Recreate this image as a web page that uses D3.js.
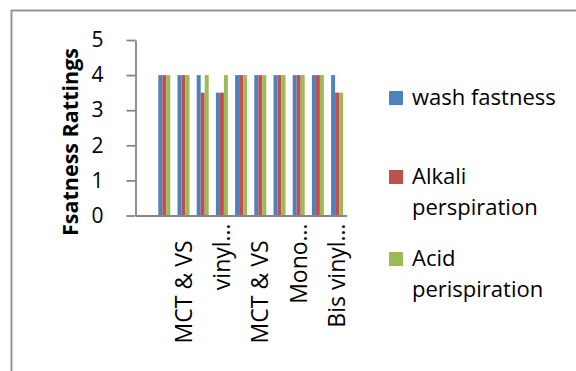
<!DOCTYPE html>
<html>
<head>
<meta charset="utf-8">
<script src="https://cdn.jsdelivr.net/npm/d3@7"></script>
<style>
  html, body { margin: 0; padding: 0; background: #fff; }
  svg { display: block; }
  text { font-family: "Open Sans", Lato, "Liberation Sans", sans-serif; fill: #000; }
</style>
</head>
<body>
<svg id="chart" width="576" height="371"></svg>
<script>
// Category slots along the x axis (only every second label is printed)
const categories = ["", "", "MCT & VS", "", "vinyl…", "", "MCT & VS", "", "Mono…", "", "Bis vinyl…"];

// Ratings per category for each test
const washFastness = [null, 4, 4, 4, 3.5, 4, 4, 4, 4, 4, 4];
const alkaliPerspiration = [null, 4, 4, 3.5, 3.5, 4, 4, 4, 4, 4, 3.5];
const acidPerspiration = [null, 4, 4, 4, 4, 4, 4, 4, 4, 4, 3.5];

const seriesNames = ["wash fastness", "Alkali perspiration", "Acid perispiration"];
const seriesLegendLines = [["wash fastness"], ["Alkali", "perspiration"], ["Acid", "perispiration"]];
const seriesColors = ["#4F81BD", "#C0504D", "#9BBB59"];
const yTicks = [0, 1, 2, 3, 4, 5];
const yTitle = "Fsatness Rattings";

const seriesValues = [washFastness, alkaliPerspiration, acidPerspiration];

const svg = d3.select("#chart");

// chart frame
svg.append("rect")
  .attr("x", 11.5).attr("y", 10.5)
  .attr("width", 600).attr("height", 400)
  .attr("fill", "#fff")
  .attr("stroke", "#8c8c8c")
  .attr("stroke-width", 1.8);

const plot = { left: 135.5, right: 346.7, top: 40, bottom: 215.5 };

const y = d3.scaleLinear().domain([0, 5]).range([plot.bottom, plot.top]);
const x0 = d3.scaleBand().domain(d3.range(categories.length)).range([plot.left, plot.right]).padding(0);
const groupWidth = x0.bandwidth() / 1.6;
const x1 = d3.scaleBand().domain(d3.range(seriesNames.length)).range([0, groupWidth]).padding(0);

// bars
const groups = svg.append("g")
  .selectAll("g")
  .data(categories.map((c, i) => i))
  .join("g")
  .attr("transform", i => `translate(${x0(i) + (x0.bandwidth() - groupWidth) / 2},0)`);

groups.selectAll("rect")
  .data(i => seriesValues.map((vals, s) => ({ s, v: vals[i] })).filter(d => d.v != null))
  .join("rect")
  .attr("x", d => x1(d.s))
  .attr("width", x1.bandwidth())
  .attr("y", d => y(d.v))
  .attr("height", d => y(0) - y(d.v))
  .attr("fill", d => seriesColors[d.s]);

// y axis
const yAxis = svg.append("g")
  .attr("transform", `translate(${plot.left},0)`)
  .call(d3.axisLeft(y).tickValues(yTicks).tickFormat(d3.format("d"))
    .tickSize(9).tickPadding(23).tickSizeOuter(0));
yAxis.select(".domain").attr("stroke", "#868686").attr("stroke-width", 1.8);
yAxis.selectAll(".tick line").attr("stroke", "#868686").attr("stroke-width", 1.8);
yAxis.selectAll(".tick text")
  .attr("font-size", 21)
  .attr("font-family", "\"Open Sans\", Lato, sans-serif")
  .attr("fill", "#000");

// x axis (line only, labels drawn below)
const xAxis = svg.append("g")
  .attr("transform", `translate(0,${plot.bottom})`)
  .call(d3.axisBottom(x0).tickSize(0).tickSizeOuter(0).tickFormat(""));
xAxis.select(".domain").attr("stroke", "#868686").attr("stroke-width", 1.8);

// rotated category labels
svg.append("g")
  .selectAll("text")
  .data(categories.map((c, i) => ({ c, i })).filter(d => d.c))
  .join("text")
  .attr("transform", d => {
    const pad = d.c.endsWith("…") ? 8 : 25;
    return `translate(${x0(d.i) + x0.bandwidth() / 2},${plot.bottom + pad}) rotate(-90)`;
  })
  .attr("text-anchor", "end")
  .attr("dy", "0.35em")
  .attr("font-size", 23)
  .text(d => d.c);

// y axis title
svg.append("text")
  .attr("transform", "translate(78,142) rotate(-90)")
  .attr("text-anchor", "middle")
  .attr("font-size", 21.5)
  .attr("font-weight", "bold")
  .text(yTitle);

// legend
const legendTop = [91, 170, 252];
const legend = svg.append("g");
seriesLegendLines.forEach((lines, s) => {
  legend.append("rect")
    .attr("x", 389).attr("y", legendTop[s])
    .attr("width", 14).attr("height", 14)
    .attr("fill", seriesColors[s]);
  const t = legend.append("text")
    .attr("x", 412)
    .attr("y", legendTop[s] + 14)
    .attr("font-size", 22);
  lines.forEach((line, k) => {
    t.append("tspan").attr("x", 412).attr("dy", k === 0 ? 0 : 31).text(line);
  });
});
</script>
</body>
</html>
